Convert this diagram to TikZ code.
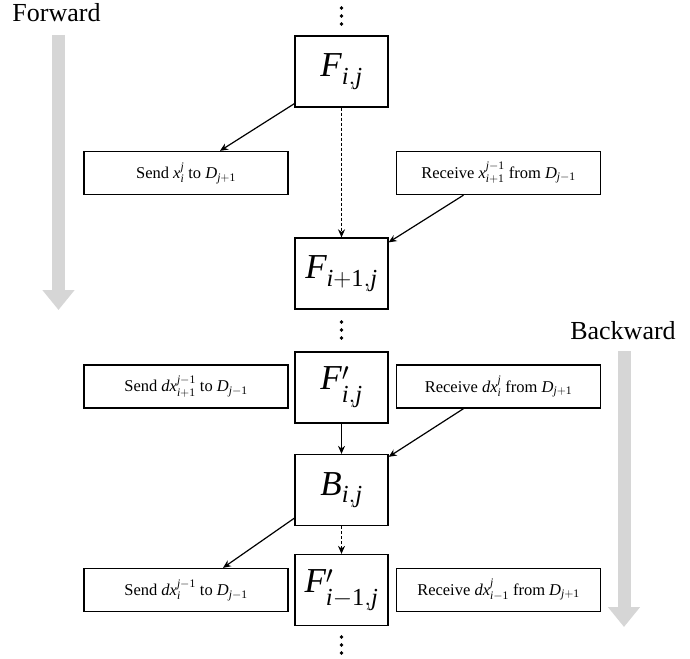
\documentclass[tikz,border=0pt]{standalone}
\usepackage{amsmath,amssymb}
\usepackage{mathspec}
\setmainfont{Liberation Serif}
\setmathsfont(Digits,Latin){Liberation Serif}
\usepackage{tikz}
\usetikzlibrary{arrows.meta}
\definecolor{flowgray}{RGB}{214,214,214}
\tikzset{
    stage/.style = {draw, line width = 1.3pt, minimum width = 93pt, minimum height = 71pt, inner sep = 0pt, font = \fontsize{35}{40}\selectfont},
    comm/.style = {draw, line width = 1.3pt, minimum width = 204pt, minimum height = 43pt, inner sep = 0pt, font = \fontsize{16.5}{20}\selectfont},
    link/.style = {-{Stealth[length = 8pt, width = 7pt]}, line width = 1.2pt},
    flow/.style = {-{Triangle[width = 31pt, length = 20pt]}, line width = 13pt, flowgray}
}
\begin{document}
\begin{tikzpicture}[x = 1pt, y = -1pt]
        \useasboundingbox (0, 0) rectangle (690, 658);
        \node [anchor = base, font = \fontsize{26}{30}\selectfont] (fwd) at (56.5, 22) {Forward};
        \node [anchor = base, font = \fontsize{26}{30}\selectfont] (bwd) at (623, 339) {Backward};
        \draw [flow] (58.5, 35) to (58.5, 310);
        \draw [flow] (624, 351) to (624, 627);
        \node [stage] (fij) at (341.5, 71.5) {$F_{i,j}$};
        \node [stage] (fnext) at (341.5, 273.5) {$F_{i+1,j}$};
        \node [stage] (fpij) at (341.5, 387.5) {$F'_{i,j}$};
        \node [stage] (bij) at (341.5, 490) {$B_{i,j}$};
        \node [stage] (fpprev) at (341.5, 590) {$F'_{i-1,j}$};
        \node [comm] (sendx) at (186, 173) {Send $x_i^j$ to $D_{j+1}$};
        \node [comm] (recvx) at (498.5, 173) {Receive $x_{i+1}^{j-1}$ from $D_{j-1}$};
        \node [comm] (senddx) at (186, 386.5) {Send $dx_{i+1}^{j-1}$ to $D_{j-1}$};
        \node [comm] (recvdx) at (498.5, 386.5) {Receive $dx_i^j$ from $D_{j+1}$};
        \node [comm] (senddxi) at (186, 590) {Send $dx_i^{j-1}$ to $D_{j-1}$};
        \node [comm] (recvdxi) at (498.5, 590) {Receive $dx_{i-1}^j$ from $D_{j+1}$};
        \foreach \y in {16, 330, 645}
            \foreach \d in {-8, 0, 8}
                \draw [fill] (341.5, \y + \d) circle [radius = 1.6pt];
        \draw [link] ([yshift = 4pt] fij.south west) to ([xshift = 34pt] sendx.north);
        \draw [link] [dash pattern = on 3pt off 2pt] (fij) to (fnext);
        \draw [link] ([xshift = -35pt] recvx.south) to ([yshift = -5pt] fnext.north east);
        \draw [link] (fpij) to (bij);
        \draw [link] ([xshift = -35pt] recvdx.south) to ([yshift = -3pt] bij.north east);
        \draw [link] ([yshift = 8pt] bij.south west) to ([xshift = 37pt] senddxi.north);
        \draw [link] [dash pattern = on 3pt off 2pt] (bij) to (fpprev);
    \end{tikzpicture}
\end{document}
